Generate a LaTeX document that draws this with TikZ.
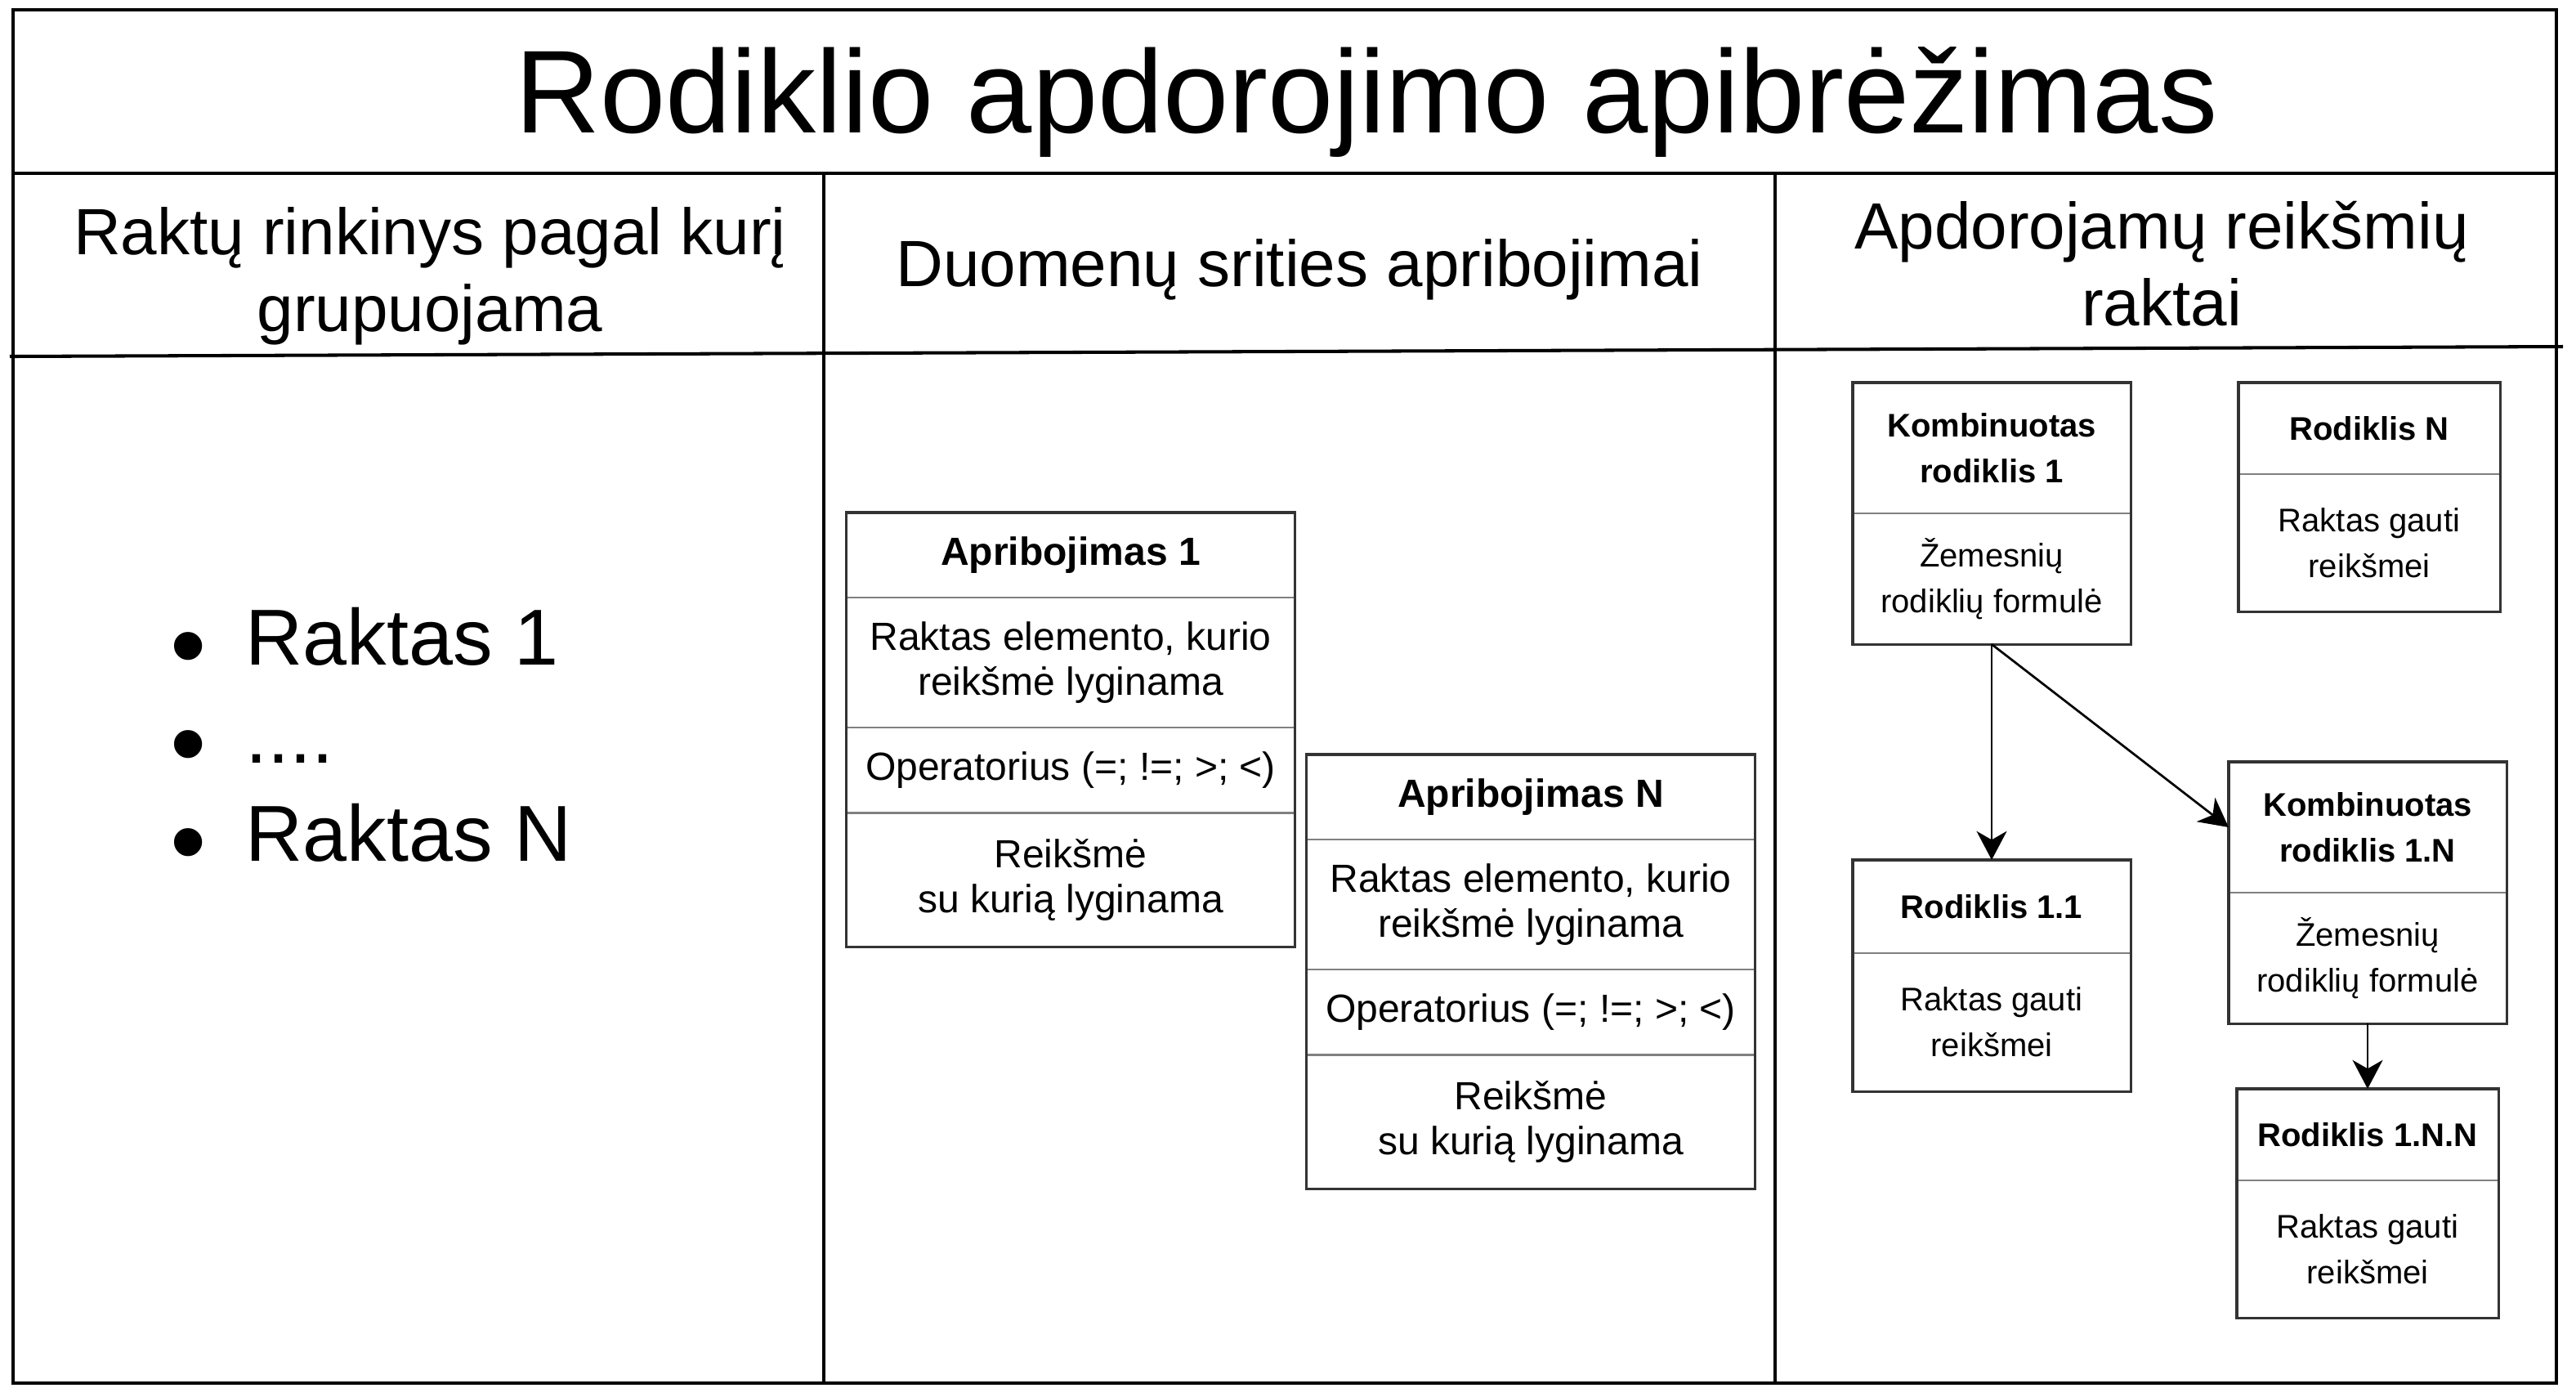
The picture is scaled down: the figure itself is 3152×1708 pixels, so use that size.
\documentclass[tikz,border=0pt]{standalone}
\usepackage{graphicx}
\usepackage{fontspec}
\setmainfont{Liberation Sans}
\usepackage{tikz}
\usetikzlibrary{arrows.meta,positioning}
\definecolor{frameline}{HTML}{333333}
\definecolor{sepline}{HTML}{808080}
\newcommand{\keyitem}{\makebox[0.92cm][l]{\raisebox{-0.2em}{\scalebox{1.3}{•}}}}

\begin{document}
\begin{tikzpicture}[
  x=0.01cm, y=-0.01cm,
  >={Stealth[length=10pt,width=10.5pt,inset=3pt]},
  cell/.style={draw=sepline, line width=0.75pt, inner sep=0pt, outer sep=0pt, align=center},
  aprcell/.style={cell, minimum width=5.48cm, font=\fontsize{13.66}{15.6}\selectfont},
  kombcell/.style={cell, minimum width=3.4cm, minimum height=1.6cm, font=\fontsize{11.38}{15.9}\selectfont},
  rodcell/.style={cell, minimum width=3.2cm, font=\fontsize{11.38}{15.9}\selectfont},
  boxframe/.style={draw=frameline, line width=0.9pt},
  tableline/.style={draw=black, line width=1.15pt},
  heading/.style={anchor=base, align=center, font=\fontsize{22.76}{26.5}\selectfont},
  link/.style={->, line width=0.77pt}]
\useasboundingbox (0,0) rectangle (3152,1708);

\draw[tableline] (16,12) rectangle (3128,1692);
\draw[tableline] (16,212) -- (3128,212);
\draw[tableline] (12,436) -- (3136,424);
\draw[tableline] (1008,212) -- (1008,1692);
\draw[tableline] (2172,212) -- (2172,1692);

\node[anchor=base, font=\fontsize{41}{49}\selectfont] (title) at (1672,162) {Rodiklio apdorojimo apibrėžimas};
\node[heading] (hkeys) at (526,405) {Raktų rinkinys pagal kurį\\grupuojama};
\node[heading] (hlimits) at (1590,350) {Duomenų srities apribojimai};
\node[heading] (hvalues) at (2645,398) {Apdorojamų reikšmių\\raktai};

\node[anchor=base west, align=left, inner sep=0pt, font=\fontsize{27.6}{34.1}\selectfont] (keys) at (208,1053)
  {\keyitem Raktas 1\\\keyitem ....\\\keyitem Raktas N};

\node[aprcell, minimum height=1.04cm] (apr1) at (1310,679) {\textbf{Apribojimas 1}};
\node[aprcell, minimum height=1.59cm, below=0pt of apr1] (apr1key) {Raktas elemento, kurio\\reikšmė lyginama};
\node[aprcell, minimum height=1.04cm, below=0pt of apr1key] (apr1op) {Operatorius (=; !=; >; <)};
\node[aprcell, minimum height=1.64cm, below=0pt of apr1op] (apr1val) {Reikšmė\\su kurią lyginama};

\node[aprcell, minimum height=1.04cm] (aprn) at (1873,975) {\textbf{Apribojimas N}};
\node[aprcell, minimum height=1.59cm, below=0pt of aprn] (aprnkey) {Raktas elemento, kurio\\reikšmė lyginama};
\node[aprcell, minimum height=1.04cm, below=0pt of aprnkey] (aprnop) {Operatorius (=; !=; >; <)};
\node[aprcell, minimum height=1.64cm, below=0pt of aprnop] (aprnval) {Reikšmė\\su kurią lyginama};

\node[kombcell] (komb1) at (2437,548) {\textbf{Kombinuotas}\\\textbf{rodiklis 1}};
\node[kombcell, below=0pt of komb1] (komb1body) {Žemesnių\\rodiklių formulė};
\node[rodcell, minimum height=1.12cm] (rodn) at (2899,524) {\textbf{Rodiklis N}};
\node[rodcell, minimum height=1.68cm, below=0pt of rodn] (rodnbody) {Raktas gauti\\reikšmei};
\node[kombcell, minimum height=1.14cm] (rod11) at (2437,1109) {\textbf{Rodiklis 1.1}};
\node[kombcell, minimum height=1.69cm, below=0pt of rod11] (rod11body) {Raktas gauti\\reikšmei};
\node[kombcell] (komb1n) at (2897,1012) {\textbf{Kombinuotas}\\\textbf{rodiklis 1.N}};
\node[kombcell, below=0pt of komb1n] (komb1nbody) {Žemesnių\\rodiklių formulė};
\node[rodcell, minimum height=1.12cm] (rod1nn) at (2897,1388) {\textbf{Rodiklis 1.N.N}};
\node[rodcell, minimum height=1.68cm, below=0pt of rod1nn] (rod1nnbody) {Raktas gauti\\reikšmei};

\foreach \boxtop/\boxbot in {apr1/apr1val, aprn/aprnval, komb1/komb1body, rodn/rodnbody,
    rod11/rod11body, komb1n/komb1nbody, rod1nn/rod1nnbody}
  \draw[boxframe] (\boxtop.north west) rectangle (\boxbot.south east);

\draw[link] (komb1body.south) -- (rod11.north);
\draw[link] (komb1body.south) -- (komb1n.west);
\draw[link] (komb1nbody.south) -- (rod1nn.north);
\end{tikzpicture}
\end{document}
